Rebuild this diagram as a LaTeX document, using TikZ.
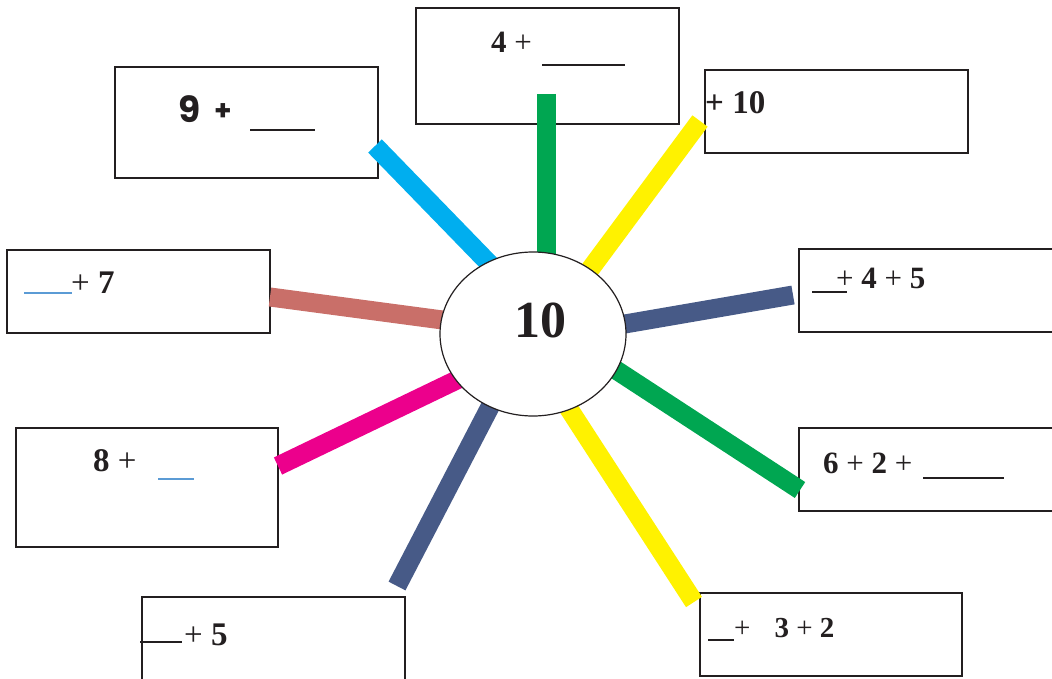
\documentclass[tikz,border=0pt]{standalone}
\usepackage{fontspec}
\setmainfont{Liberation Serif}
\newfontfamily\popp{Poppins}
\usetikzlibrary{shapes.geometric}
\definecolor{cgreen}{RGB}{0,166,81}
\definecolor{cyellow}{RGB}{255,242,0}
\definecolor{ccyan}{RGB}{0,174,239}
\definecolor{cbrown}{RGB}{201,111,105}
\definecolor{cnavy}{RGB}{71,90,135}
\definecolor{cmagenta}{RGB}{236,0,140}
\definecolor{cink}{RGB}{35,31,32}
\definecolor{cblueline}{RGB}{91,155,213}
\tikzset{
  box/.style={draw=cink, line width=1.2pt, fill=white, rectangle, inner sep=0pt},
  bar/.style={line width=19pt},
  lbl/.style={anchor=base west, inner sep=0pt, text=cink, font=\fontsize{31}{33}\selectfont},
  blank/.style={draw=cink, line width=1.2pt},
  blankblue/.style={draw=cblueline, line width=1.2pt}
}
\begin{document}
\begin{tikzpicture}[x=1pt,y=-1pt]
\useasboundingbox (0,0) rectangle (1052,679);
% boxes
\node[box, minimum width=263pt, minimum height=116pt] (b1) at (547.5,66) {};
\node[box, minimum width=263pt, minimum height=111pt] (b2) at (246.5,122.5) {};
\node[box, minimum width=263pt, minimum height=83pt] (b3) at (836.5,111.5) {};
\node[box, minimum width=263pt, minimum height=83pt] (b4) at (138.5,291.5) {};
\node[box, minimum width=263pt, minimum height=83pt] (b5) at (930.5,290.5) {};
\node[box, minimum width=263pt, minimum height=83pt] (b6) at (930.5,469.5) {};
\node[box, minimum width=262pt, minimum height=119pt] (b7) at (147,487.5) {};
\node[box, minimum width=263pt, minimum height=84pt] (b8) at (273.5,639) {};
\node[box, minimum width=262pt, minimum height=83pt] (b9) at (831,634.5) {};
% bar end points
\coordinate (g1a) at (546,94);   \coordinate (g1b) at (546,300);
\coordinate (y1a) at (700,121);  \coordinate (y1b) at (560,310);
\coordinate (c1a) at (375,146);  \coordinate (c1b) at (510,285);
\coordinate (r1a) at (270,297);  \coordinate (r1b) at (480,325);
\coordinate (n1a) at (793,295);  \coordinate (n1b) at (590,330);
\coordinate (g2a) at (800,490);  \coordinate (g2b) at (590,353);
\coordinate (m1a) at (278,466);  \coordinate (m1b) at (490,364);
\coordinate (n2a) at (397,586);  \coordinate (n2b) at (505,378);
\coordinate (y2a) at (694,602);  \coordinate (y2b) at (560,395);
% bars
\draw[bar, cgreen]   (g1a) -- (g1b);
\draw[bar, cyellow]  (y1a) -- (y1b);
\draw[bar, ccyan]    (c1a) -- (c1b);
\draw[bar, cbrown]   (r1a) -- (r1b);
\draw[bar, cnavy]    (n1a) -- (n1b);
\draw[bar, cgreen]   (g2a) -- (g2b);
\draw[bar, cmagenta] (m1a) -- (m1b);
\draw[bar, cnavy]    (n2a) -- (n2b);
\draw[bar, cyellow]  (y2a) -- (y2b);
% centre ellipse
\node[ellipse, draw=cink, line width=1.2pt, fill=white, minimum width=186pt, minimum height=164pt, inner sep=0pt] (ctr) at (533,334) {};
\node[anchor=base, inner sep=0pt, text=cink, font=\fontsize{52}{54}\selectfont\bfseries] (ten) at (540,337) {10};
% labels
\node[lbl] (t1) at (491,53) {\textbf{4} +};
\coordinate (u1a) at (542,65); \coordinate (u1b) at (625,65);
\draw[blank] (u1a) -- (u1b);

\node[lbl, font=\fontsize{36}{38}\selectfont\popp\bfseries] (t2) at (178,123) {9};
\node[lbl, font=\fontsize{28}{30}\selectfont\popp\bfseries] (t2p) at (214,121) {+};
\coordinate (u2a) at (250,130); \coordinate (u2b) at (315,130);
\draw[blank] (u2a) -- (u2b);

\node[lbl, font=\fontsize{33}{35}\selectfont\bfseries] (t3) at (705,114) {+ 10};

\coordinate (u4a) at (24,293); \coordinate (u4b) at (72,293);
\draw[blankblue] (u4a) -- (u4b);
\node[lbl, font=\fontsize{33}{35}\selectfont] (t4) at (71,293) {+ \textbf{7}};

\coordinate (u5a) at (812,292); \coordinate (u5b) at (847,292);
\draw[blank] (u5a) -- (u5b);
\node[lbl] (t5) at (836,288) {+ \textbf{4} + \textbf{5}};

\node[lbl] (t6) at (823,473) {\textbf{6} + \textbf{2} +};
\coordinate (u6a) at (923,478); \coordinate (u6b) at (1004,478);
\draw[blank] (u6a) -- (u6b);

\node[lbl, font=\fontsize{33}{35}\selectfont] (t7) at (93,471) {\textbf{8} +};
\coordinate (u7a) at (158,479); \coordinate (u7b) at (194,479);
\draw[blankblue] (u7a) -- (u7b);

\coordinate (u8a) at (140,642); \coordinate (u8b) at (182,642);
\draw[blank] (u8a) -- (u8b);
\node[lbl, font=\fontsize{33}{35}\selectfont] (t8) at (184,645) {+ \textbf{5}};

\coordinate (u9a) at (708,640); \coordinate (u9b) at (734,640);
\draw[blank] (u9a) -- (u9b);
\node[lbl, font=\fontsize{29}{31}\selectfont] (t9) at (734,637) {+\hspace{24pt}\textbf{3} + \textbf{2}};
\end{tikzpicture}
\end{document}
